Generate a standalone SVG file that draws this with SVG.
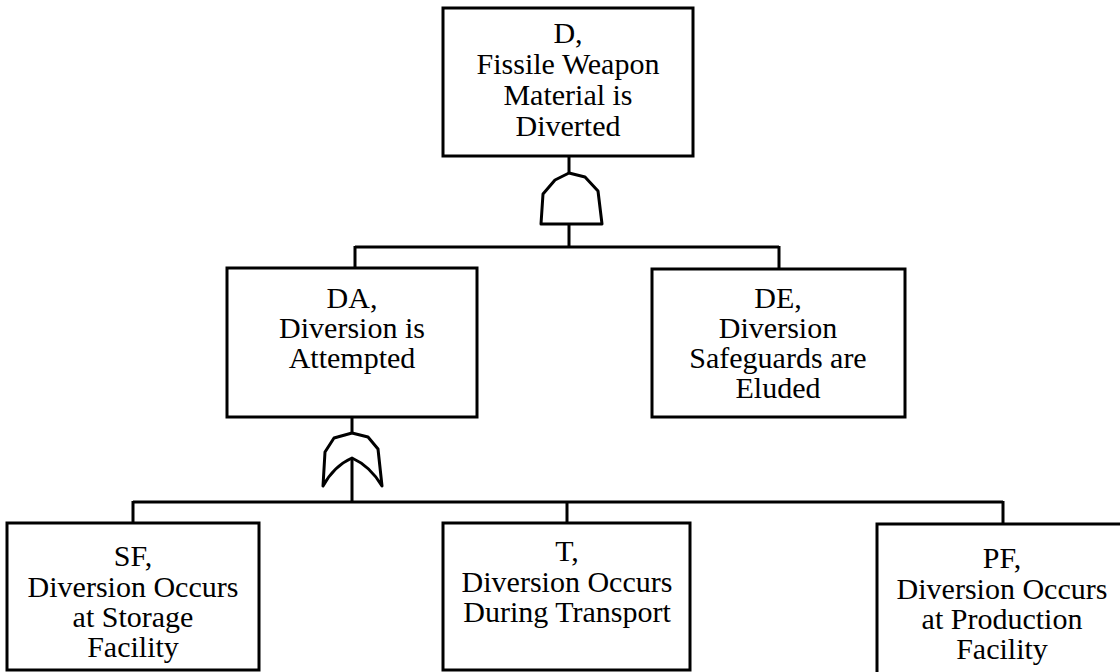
<svg xmlns="http://www.w3.org/2000/svg" width="1120" height="672" viewBox="0 0 1120 672">
<style>
.box{fill:#fff;stroke:#000;stroke-width:3}
.ln{fill:none;stroke:#000;stroke-width:3}
.gate{fill:#fff;stroke:#000;stroke-width:3;stroke-linejoin:round}
text{font-family:"Liberation Serif","Times New Roman",serif;font-size:30px;fill:#000;text-anchor:middle}
</style>
<rect width="1120" height="672" fill="#fff"/>
<g id="connectors">
<path class="ln" d="M569,156 V174"/>
<path class="ln" d="M569,224 V247 M355,247 H779 M355,246 V268 M779,246 V269"/>
<path class="ln" d="M352,417 V434"/>
<path class="ln" d="M352,458 V502 M133,502 H1003 M133,501 V523 M567,501 V523 M1003,501 V524"/>
</g>
<g id="gate-and">
<path class="gate" d="M541,224 L543,194 L555,180 L569,173 L585,177 L598,191 L602,224 Z"/>
</g>
<g id="gate-or">
<path class="gate" d="M323,486 L325,452 L334,438 L352,433 L368,437 L378,449 L382,486 Q370,466 352,458 Q334,466 323,486 Z"/>
</g>
<g id="node-D">
<rect class="box" x="443" y="8" width="250" height="148"/>
<text x="568" y="43">D,</text>
<text x="568" y="74">Fissile Weapon</text>
<text x="568" y="105">Material is</text>
<text x="568" y="136">Diverted</text>
</g>
<g id="node-DA">
<rect class="box" x="227" y="268" width="250" height="149"/>
<text x="352" y="308">DA,</text>
<text x="352" y="338">Diversion is</text>
<text x="352" y="368">Attempted</text>
</g>
<g id="node-DE">
<rect class="box" x="652" y="269" width="253" height="148"/>
<text x="778" y="308">DE,</text>
<text x="778" y="338">Diversion</text>
<text x="778" y="368">Safeguards are</text>
<text x="778" y="398">Eluded</text>
</g>
<g id="node-SF">
<rect class="box" x="7" y="523" width="252" height="147"/>
<text x="133" y="566">SF,</text>
<text x="133" y="597">Diversion Occurs</text>
<text x="133" y="627">at Storage</text>
<text x="133" y="657">Facility</text>
</g>
<g id="node-T">
<rect class="box" x="443" y="523" width="247" height="147"/>
<text x="567" y="561">T,</text>
<text x="567" y="592">Diversion Occurs</text>
<text x="567" y="622">During Transport</text>
</g>
<g id="node-PF">
<rect class="box" x="877" y="524" width="252" height="150"/>
<text x="1002" y="568">PF,</text>
<text x="1002" y="599">Diversion Occurs</text>
<text x="1002" y="629">at Production</text>
<text x="1002" y="659">Facility</text>
</g>
</svg>
